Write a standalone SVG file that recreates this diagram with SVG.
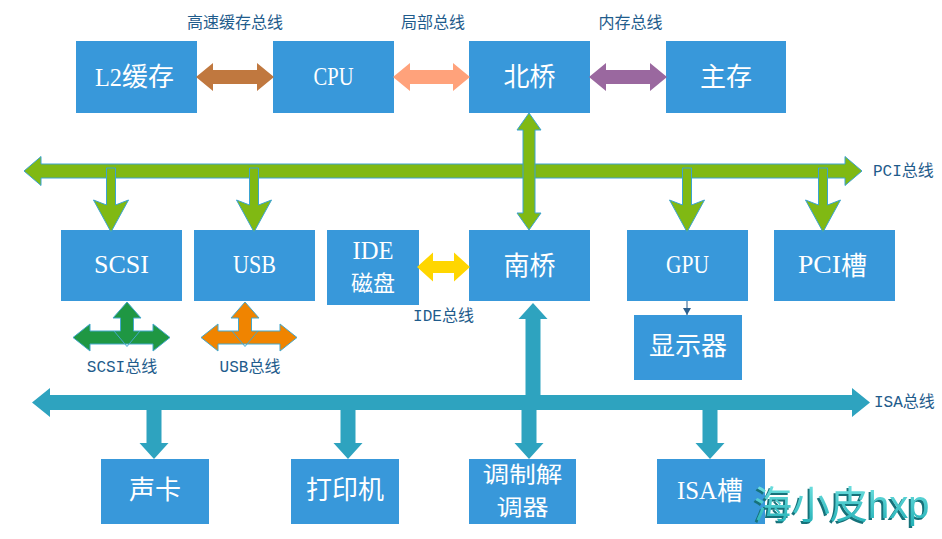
<svg xmlns="http://www.w3.org/2000/svg" width="942" height="539" viewBox="0 0 942 539">
<style>
.box{fill:#3898DA}
.cj{fill:#fff;font-family:"Noto Sans CJK SC",sans-serif;font-size:26px}
.cj2{fill:#fff;font-family:"Noto Sans CJK SC",sans-serif;font-size:22px}
.lt{fill:#fff;font-family:"Liberation Serif",serif;font-size:26px}
.lb{fill:#1F5C8C;font-family:"Liberation Mono","Noto Sans CJK SC",monospace;font-size:16px}
.pci{fill:#80B913;stroke:#3BA3D0;stroke-width:1}
.isa{fill:#2EA3BF}
.tw{stroke:#44A8CC;stroke-width:1}
.wm{font-family:"Liberation Sans","Noto Sans CJK SC",sans-serif;font-size:38px;fill:url(#wg)}
</style>
<defs>
<marker id="ah" markerWidth="8" markerHeight="8" refX="7" refY="4" orient="auto" markerUnits="userSpaceOnUse" viewBox="0 0 8 8">
<path d="M0,0 L7,4 L0,8 Z" fill="#2B5F8E"/>
</marker>
<linearGradient id="wg" x1="0" y1="0" x2="0" y2="1">
<stop offset="0" stop-color="#6FE0E0"/>
<stop offset="1" stop-color="#22B0B6"/>
</linearGradient>
<filter id="sh" x="-10%" y="-10%" width="130%" height="140%">
<feOffset in="SourceAlpha" dx="-2" dy="2" result="o"/>
<feFlood flood-color="#17727A"/>
<feComposite in2="o" operator="in"/>
<feMerge><feMergeNode/><feMergeNode in="SourceGraphic"/></feMerge>
</filter>
</defs>
<rect width="942" height="539" fill="#fff"/>

<g id="n-l2">
<rect class="box" x="76" y="41" width="121" height="72"/>
<text class="lt" x="95" y="86" textLength="27" lengthAdjust="spacingAndGlyphs">L2</text>
<text class="cj" x="122" y="86">缓存</text>
</g>
<g id="n-cpu">
<rect class="box" x="273" y="41" width="121" height="72"/>
<text class="lt" x="333.5" y="85" text-anchor="middle" textLength="40" lengthAdjust="spacingAndGlyphs">CPU</text>
</g>
<g id="n-north">
<rect class="box" x="469" y="41" width="121" height="72"/>
<text class="cj" x="529.5" y="86" text-anchor="middle">北桥</text>
</g>
<g id="n-mem">
<rect class="box" x="666" y="41" width="120" height="72"/>
<text class="cj" x="726" y="86" text-anchor="middle">主存</text>
</g>
<g id="n-scsi">
<rect class="box" x="61" y="230" width="121" height="71"/>
<text class="lt" x="121.5" y="273" text-anchor="middle" textLength="55" lengthAdjust="spacingAndGlyphs">SCSI</text>
</g>
<g id="n-usb">
<rect class="box" x="194" y="230" width="121" height="71"/>
<text class="lt" x="254.5" y="273" text-anchor="middle" textLength="43" lengthAdjust="spacingAndGlyphs">USB</text>
</g>
<g id="n-ide">
<rect class="box" x="327" y="230" width="92" height="75"/>
<text class="lt" x="373" y="259" text-anchor="middle" textLength="41" lengthAdjust="spacingAndGlyphs">IDE</text>
<text class="cj2" x="373" y="291" text-anchor="middle">磁盘</text>
</g>
<g id="n-south">
<rect class="box" x="469" y="230" width="121" height="71"/>
<text class="cj" x="529.5" y="275" text-anchor="middle">南桥</text>
</g>
<g id="n-gpu">
<rect class="box" x="627" y="230" width="121" height="71"/>
<text class="lt" x="687.5" y="273" text-anchor="middle" textLength="43" lengthAdjust="spacingAndGlyphs">GPU</text>
</g>
<g id="n-pcislot">
<rect class="box" x="774" y="230" width="121" height="71"/>
<text class="lt" x="798" y="273" textLength="43" lengthAdjust="spacingAndGlyphs">PCI</text>
<text class="cj" x="841" y="275">槽</text>
</g>
<g id="n-display">
<rect class="box" x="634" y="315" width="108" height="65"/>
<text class="cj" x="688" y="355" text-anchor="middle">显示器</text>
</g>
<g id="n-sound">
<rect class="box" x="101" y="459" width="108" height="65"/>
<text class="cj" x="155" y="499" text-anchor="middle">声卡</text>
</g>
<g id="n-printer">
<rect class="box" x="291" y="459" width="108" height="65"/>
<text class="cj" x="345" y="499" text-anchor="middle">打印机</text>
</g>
<g id="n-modem">
<rect class="box" x="469" y="459" width="107" height="65"/>
<text class="cj2" x="522.5" y="482" text-anchor="middle" textLength="80" lengthAdjust="spacingAndGlyphs">调制解</text>
<text class="cj2" x="522.5" y="515" text-anchor="middle" textLength="52" lengthAdjust="spacingAndGlyphs">调器</text>
</g>
<g id="n-isaslot">
<rect class="box" x="657" y="459" width="108" height="65"/>
<text class="lt" x="677" y="499" textLength="40" lengthAdjust="spacingAndGlyphs">ISA</text>
<text class="cj" x="717" y="500">槽</text>
</g>

<g id="connectors">
<path fill="#C0783F" d="M196,77 L213,63 L213,70 L257,70 L257,63 L274,77 L257,91 L257,84 L213,84 L213,91 Z"/>
<path fill="#FFA27B" d="M393,77 L410,63 L410,70 L453,70 L453,63 L470,77 L453,91 L453,84 L410,84 L410,91 Z"/>
<path fill="#9A689F" d="M589,77 L606,63 L606,70 L650,70 L650,63 L667,77 L650,91 L650,84 L606,84 L606,91 Z"/>

<path class="pci" d="M24,171 L41,156.5 L41,164 L845,164 L845,156.5 L862,171 L845,185.5 L845,178 L41,178 L41,185.5 Z"/>
<path class="pci" d="M106.5,168 L115.5,168 L115.5,205 L128.5,200 L111,232 L93.5,200 L106.5,205 Z"/>
<path class="pci" d="M249.5,168 L258.5,168 L258.5,205 L271.5,200 L254,232 L236.5,200 L249.5,205 Z"/>
<path class="pci" d="M682.5,168 L691.5,168 L691.5,205 L704.5,200 L687,232 L669.5,200 L682.5,205 Z"/>
<path class="pci" d="M818.5,168 L827.5,168 L827.5,205 L840.5,200 L823,232 L805.5,200 L818.5,205 Z"/>
<path class="pci" d="M529,113 L541,130 L535,130 L535,213 L541,213 L529,230 L517,213 L523,213 L523,130 L517,130 Z"/>

<path fill="#FFD600" d="M417,267 L433,252.5 L433,261 L454,261 L454,252.5 L470,267 L454,281.5 L454,273 L433,273 L433,281.5 Z"/>

<path class="tw" fill="#1F9743" d="M73,337.5 L90,324 L90,331 L120.5,331 L120.5,318 L113,318 L127,302 L141,318 L133.5,318 L133.5,331 L153,331 L153,324 L170,337.5 L153,351 L153,344 L90,344 L90,351 Z"/>
<path class="tw" fill="none" d="M114,331 L127,346.5 L140,331"/>
<path class="tw" fill="#F08400" d="M201,337.5 L218,324 L218,331 L238.5,331 L238.5,318 L231,318 L245,302 L259,318 L251.5,318 L251.5,331 L280,331 L280,324 L297,337.5 L280,351 L280,344 L218,344 L218,351 Z"/>
<path class="tw" fill="none" d="M232,331 L245,346.5 L258,331"/>

<line x1="687" y1="301" x2="687" y2="315" stroke="#2B5F8E" stroke-width="1" marker-end="url(#ah)"/>

<path class="isa" d="M32,402.5 L50,388 L50,395 L852,395 L852,388 L870,402.5 L852,417 L852,410 L50,410 L50,417 Z"/>
<path class="isa" d="M525.5,402 L540.5,402 L540.5,319 L547.5,319 L533,303 L518.5,319 L525.5,319 Z"/>
<path class="isa" d="M146.5,402 L161.5,402 L161.5,443 L168.5,443 L154,459 L139.5,443 L146.5,443 Z"/>
<path class="isa" d="M340.5,402 L355.5,402 L355.5,443 L362.5,443 L348,459 L333.5,443 L340.5,443 Z"/>
<path class="isa" d="M521.5,402 L536.5,402 L536.5,443 L543.5,443 L529,459 L514.5,443 L521.5,443 Z"/>
<path class="isa" d="M702.5,402 L717.5,402 L717.5,443 L724.5,443 L710,459 L695.5,443 L702.5,443 Z"/>
</g>

<g id="labels">
<text class="lb" x="235" y="28" text-anchor="middle">高速缓存总线</text>
<text class="lb" x="433" y="28" text-anchor="middle">局部总线</text>
<text class="lb" x="630.5" y="28" text-anchor="middle">内存总线</text>
<text class="lb" x="873" y="176">PCI总线</text>
<text class="lb" x="443.5" y="321" text-anchor="middle">IDE总线</text>
<text class="lb" x="122" y="372" text-anchor="middle">SCSI总线</text>
<text class="lb" x="250" y="372" text-anchor="middle">USB总线</text>
<text class="lb" x="874" y="407">ISA总线</text>
</g>

<g id="watermark">
<text class="wm" x="754" y="518" filter="url(#sh)">海小皮hxp</text>
</g>
</svg>
